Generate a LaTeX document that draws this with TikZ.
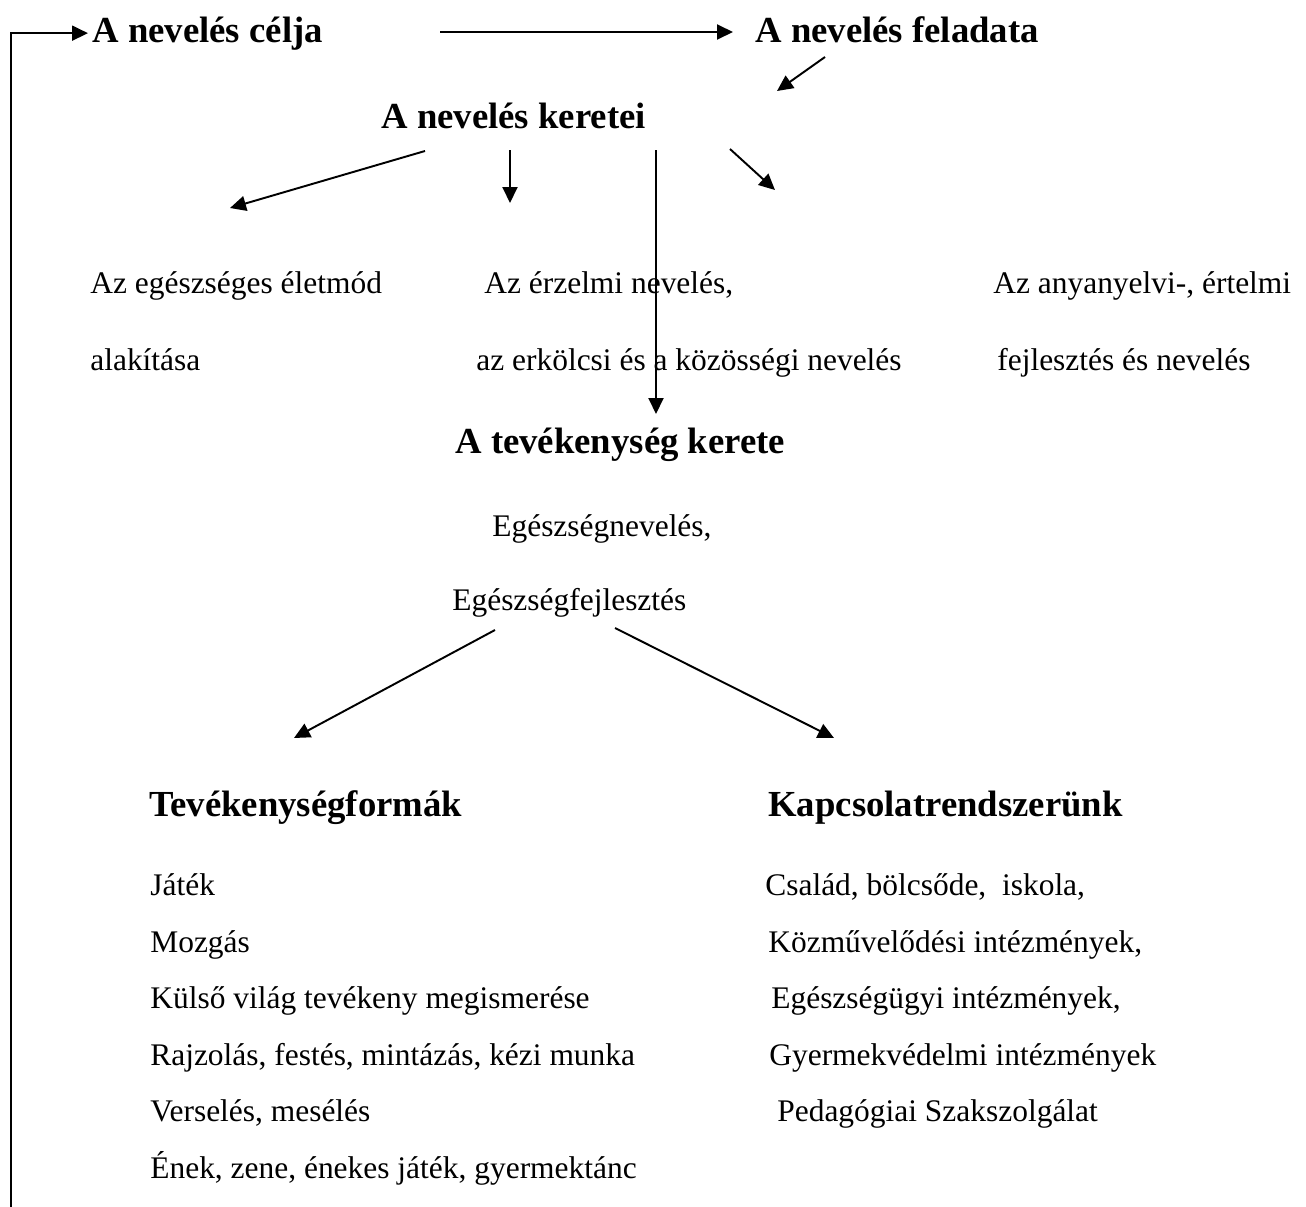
\documentclass[tikz,border=0pt]{standalone}
\usepackage{fontspec}
\setmainfont{Liberation Serif}
\usetikzlibrary{arrows.meta, positioning, calc}

\begin{document}
\begin{tikzpicture}[x=0.02cm, y=-0.02cm,
    head/.style={anchor=base west, inner sep=0pt, font=\fontsize{20.9}{25}\selectfont\bfseries},
    body/.style={anchor=base west, inner sep=0pt, font=\fontsize{17.9}{21}\selectfont},
    arr/.style={line width=1.1pt, -{Triangle[length=0.32cm, width=0.3cm]}}]
  \useasboundingbox (0,0) rectangle (1306,1207);

  % Top row
  \node[head] (celja) at (92, 42) {A nevelés célja};
  \node[head] (feladat) at (755, 42) {A nevelés feladata};
  \node[head] (keretei) at (381, 128) {A nevelés keretei};

  % The three areas
  \node[body] (egesz1) at (90, 293) {Az egészséges életmód};
  \node[body] (egesz2) at (90, 370) {alakítása};
  \node[body] (erz1) at (484, 293) {Az érzelmi nevelés,};
  \node[body] (erz2) at (476, 370) {az erkölcsi és a közösségi nevelés};
  \node[body] (anya1) at (993, 293) {Az anyanyelvi-, értelmi};
  \node[body] (anya2) at (997, 370) {fejlesztés és nevelés};

  % Frame of the activities
  \node[head] (tevker) at (455, 453) {A tevékenység kerete};
  \node[body] (egnev) at (492, 536) {Egészségnevelés,};
  \node[body] (egfejl) at (452, 610) {Egészségfejlesztés};

  % Forms of activity
  \node[head] (formak) at (149, 816) {Tevékenységformák};
  \node[body] (f1) at (150, 895) {Játék};
  \node[body] (f2) at (150, 952) {Mozgás};
  \node[body] (f3) at (150, 1008) {Külső világ tevékeny megismerése};
  \node[body] (f4) at (150, 1065) {Rajzolás, festés, mintázás, kézi munka};
  \node[body] (f5) at (150, 1121) {Verselés, mesélés};
  \node[body] (f6) at (150, 1178) {Ének, zene, énekes játék, gyermektánc};

  % Relations
  \node[head] (kapcs) at (768, 816) {Kapcsolatrendszerünk};
  \node[body] (k1) at (765, 895) {Család, bölcsőde,\ \ iskola,};
  \node[body] (k2) at (768, 952) {Közművelődési intézmények,};
  \node[body] (k3) at (771, 1008) {Egészségügyi intézmények,};
  \node[body] (k4) at (769, 1065) {Gyermekvédelmi intézmények};
  \node[body] (k5) at (777, 1121) {Pedagógiai Szakszolgálat};

  % Arrow ends
  \coordinate (fbot) at (11, 1207);
  \coordinate (c1) at (440, 32);
  \coordinate (c2) at (733, 32);
  \coordinate (fa1) at (825, 57);
  \coordinate (fa2) at (777, 91);
  \coordinate (ka1) at (425, 151);
  \coordinate (ka2) at (230, 208);
  \coordinate (kb1) at (510, 150);
  \coordinate (kb2) at (510, 203);
  \coordinate (kc1) at (656, 150);
  \coordinate (kc2) at (656, 414);
  \coordinate (kd1) at (730, 149);
  \coordinate (kd2) at (775, 190);
  \coordinate (ea1) at (495, 630);
  \coordinate (ea2) at (294, 738);
  \coordinate (eb1) at (615, 628);
  \coordinate (eb2) at (834, 738);

  \draw[arr] (fbot) |- ([xshift=-0.08cm]celja.west);
  \draw[arr] (c1) -- (c2);
  \draw[arr] (fa1) -- (fa2);
  \draw[arr] (ka1) -- (ka2);
  \draw[arr] (kb1) -- (kb2);
  \draw[arr] (kc1) -- (kc2);
  \draw[arr] (kd1) -- (kd2);
  \draw[arr] (ea1) -- (ea2);
  \draw[arr] (eb1) -- (eb2);
\end{tikzpicture}
\end{document}
